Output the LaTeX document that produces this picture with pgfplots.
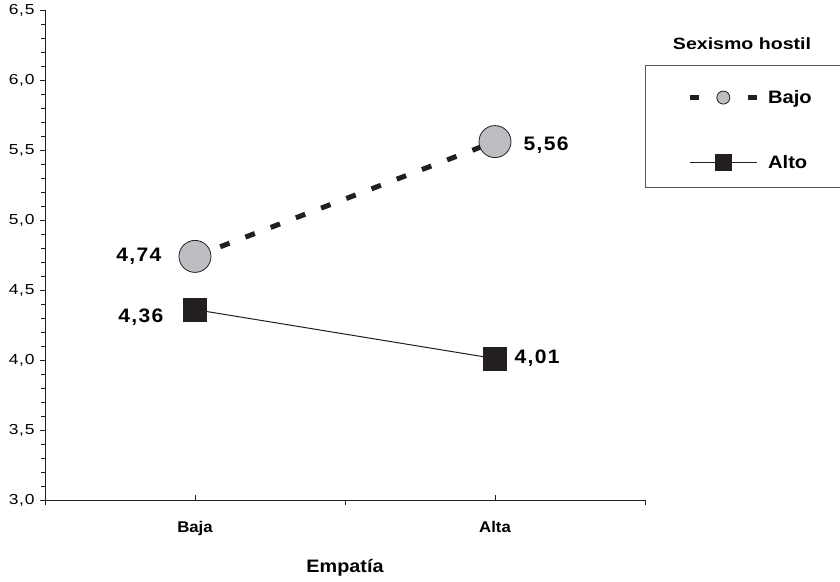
\documentclass[border=0pt]{standalone}
\usepackage{pgfplots}
\pgfplotsset{compat=1.18}
\usepackage{fontspec}
\setmainfont{Liberation Sans}[FakeStretch=1.08]
\newfontfamily\tickf{Liberation Sans}[FakeStretch=1.2, LetterSpace=5]
\newfontfamily\titlef{Liberation Sans}[FakeStretch=1.2]
\newfontfamily\xlabf{Liberation Sans}[FakeStretch=1.1]
\newfontfamily\legf{Liberation Sans}[FakeStretch=1.12]
\newfontfamily\valf{Liberation Sans}[FakeStretch=1.08, LetterSpace=7]
\definecolor{ink}{HTML}{231F20}
\definecolor{circ}{HTML}{BCBEC1}
\newcommand\fs[1]{\fontsize{#1}{#1}\selectfont}
\begin{document}
\begin{tikzpicture}
\begin{axis}[
  at={(45pt,81pt)}, anchor=south west,
  width=600pt, height=490pt, scale only axis,
  xmin=0, xmax=2, ymin=3, ymax=6.5,
  axis x line*=bottom, axis y line*=left,
  axis line style={ink, line width=0.9pt},
  clip=false,
  ytick={3,3.5,4,4.5,5,5.5,6,6.5},
  minor y tick num=4,
  tick align=outside,
  major tick length=5pt, minor tick length=4pt,
  tick style={ink, line width=0.9pt},
  /pgf/number format/assume math mode=true,
  y tick label style={font=\tickf\fs{14.5}, xshift=-2pt, /pgf/number format/.cd, fixed, fixed zerofill, precision=1, use comma},
  xtick={0,1,2}, xticklabels={},
  extra x ticks={0.5,1.5},
  extra x tick labels={Baja,Alta},
  extra x tick style={tick align=inside, tick label style={font=\bfseries\fs{15.5}, yshift=-18pt}},
  xlabel={Empatía},
  every axis x label/.style={at={(axis description cs:0.5,-0.138)}, anchor=center, font=\xlabf\bfseries\fs{18}},
  legend style={at={(rel axis cs:1,0.8878)}, anchor=north west, draw=ink!75, line width=1.2pt,
    inner xsep=42pt, inner ysep=17pt, row sep=50.5pt, column sep=9pt,
    nodes={inner sep=0pt, text height=12.5pt, text depth=0pt},
    font=\legf\bfseries\fs{18}},
  legend cell align=left,
]
\addplot[ink, line width=5pt, dash pattern=on 10pt off 17pt,
  mark=*, mark size=16pt, mark options={solid, fill=circ, draw=ink, line width=0.8pt}, forget plot]
  coordinates {(0.5,4.74) (1.5,5.56)};
\addplot[ink, line width=1pt,
  mark=square*, mark size=11.5pt, mark options={solid, fill=ink, draw=ink}, forget plot]
  coordinates {(0.5,4.36) (1.5,4.01)};

\addlegendimage{legend image code/.code={
  \path[draw=none, fill=none] (0pt,-6.5pt) rectangle (1pt,15pt);
  \draw[ink, line width=4.5pt] (0pt,0pt) -- (9pt,0pt);
  \draw[ink, line width=4.5pt] (58pt,0pt) -- (67pt,0pt);
  \draw[ink, line width=0.8pt, fill=circ] plot[mark=*, mark size=6.5pt, mark options={fill=circ}] coordinates {(33.5pt,0pt)};
}}
\addlegendentry{Bajo}
\addlegendimage{legend image code/.code={
  \draw[ink, line width=1pt] (0pt,0pt) -- (67pt,0pt);
  \draw[ink, fill=ink] plot[mark=square*, mark size=8pt] coordinates {(33.5pt,0pt)};
}}
\addlegendentry{Alto}

\node[anchor=east, xshift=-30pt, font=\valf\bfseries\fs{19.5}] at (axis cs:0.5,4.74) {4,74};
\node[anchor=east, xshift=-28pt, yshift=-8pt, font=\valf\bfseries\fs{19.5}] at (axis cs:0.5,4.36) {4,36};
\node[anchor=west, xshift=25pt, yshift=-4pt, font=\valf\bfseries\fs{19.5}] at (axis cs:1.5,5.56) {5,56};
\node[anchor=west, xshift=16pt, font=\valf\bfseries\fs{19.5}] at (axis cs:1.5,4.01) {4,01};
\end{axis}
\node[font=\titlef\bfseries\fs{16.3}] at (742pt,537pt) {Sexismo hostil};
\pgfresetboundingbox
\path (0pt,0pt) rectangle (840pt,581pt);
\end{tikzpicture}
\end{document}
